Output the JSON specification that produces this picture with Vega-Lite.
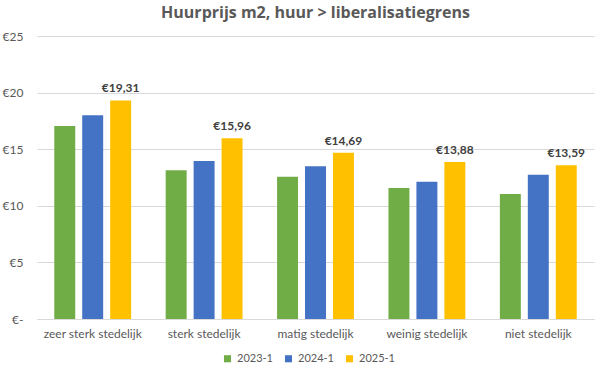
{
  "$schema": "https://vega.github.io/schema/vega-lite/v6.json",
  "width": 600,
  "height": 375,
  "autosize": {"type": "fit", "contains": "padding"},
  "padding": {"left": 2, "right": 6, "top": 5, "bottom": 36},
  "background": "white",
  "config": {
    "font": "Lato",
    "view": {"stroke": null},
    "locale": {"number": {"decimal": ",", "thousands": ".", "grouping": [3], "currency": ["€", ""]}}
  },
  "title": {"text": "Huurprijs m2, huur > liberalisatiegrens", "fontSize": 16, "fontWeight": "bold", "color": "#595959", "font": "Open Sans", "offset": 9},
  "data": {"values": [
    {"regio": "zeer sterk stedelijk", "periode": "2023-1", "prijs": 17.05},
    {"regio": "zeer sterk stedelijk", "periode": "2024-1", "prijs": 18.0},
    {"regio": "zeer sterk stedelijk", "periode": "2025-1", "prijs": 19.31},
    {"regio": "sterk stedelijk", "periode": "2023-1", "prijs": 13.13},
    {"regio": "sterk stedelijk", "periode": "2024-1", "prijs": 13.96},
    {"regio": "sterk stedelijk", "periode": "2025-1", "prijs": 15.96},
    {"regio": "matig stedelijk", "periode": "2023-1", "prijs": 12.57},
    {"regio": "matig stedelijk", "periode": "2024-1", "prijs": 13.49},
    {"regio": "matig stedelijk", "periode": "2025-1", "prijs": 14.69},
    {"regio": "weinig stedelijk", "periode": "2023-1", "prijs": 11.57},
    {"regio": "weinig stedelijk", "periode": "2024-1", "prijs": 12.13},
    {"regio": "weinig stedelijk", "periode": "2025-1", "prijs": 13.88},
    {"regio": "niet stedelijk", "periode": "2023-1", "prijs": 11.04},
    {"regio": "niet stedelijk", "periode": "2024-1", "prijs": 12.75},
    {"regio": "niet stedelijk", "periode": "2025-1", "prijs": 13.59}
  ]},
  "encoding": {
    "x": {"field": "regio", "type": "nominal", "sort": null,
      "scale": {"paddingInner": 0.31, "paddingOuter": 0.155},
      "axis": {"title": null, "labelAngle": 0, "ticks": false, "domainColor": "#d9d9d9", "labelColor": "#595959", "labelFontSize": 12, "labelPadding": 9}},
    "xOffset": {"field": "periode", "type": "nominal", "scale": {"paddingInner": 0.25}},
    "y": {"field": "prijs", "type": "quantitative",
      "scale": {"domain": [0, 25]},
      "axis": {"title": null, "values": [0, 5, 10, 15, 20, 25], "domain": false, "ticks": false, "gridColor": "#d9d9d9", "labelColor": "#595959", "labelFontSize": 12, "labelPadding": 14,
        "labelExpr": "datum.value == 0 ? '€-' : '€' + datum.value"}}
  },
  "layer": [
    {
      "mark": {"type": "bar"},
      "encoding": {
        "color": {"field": "periode", "type": "nominal",
          "scale": {"domain": ["2023-1", "2024-1", "2025-1"], "range": ["#70AD47", "#4472C4", "#FFC000"]},
          "legend": {"title": null, "orient": "none", "legendX": 185, "legendY": 317, "direction": "horizontal", "symbolType": "square", "symbolSize": 50, "labelFontSize": 11, "labelColor": "#595959", "columnPadding": 10, "symbolStrokeWidth": 0}}
      }
    },
    {
      "transform": [{"filter": "datum.periode == '2025-1'"}],
      "mark": {"type": "text", "dy": -12, "fontSize": 12, "fontWeight": "bold", "color": "#404040"},
      "encoding": {"text": {"field": "prijs", "type": "quantitative", "format": "$.2f"}}
    }
  ]
}
